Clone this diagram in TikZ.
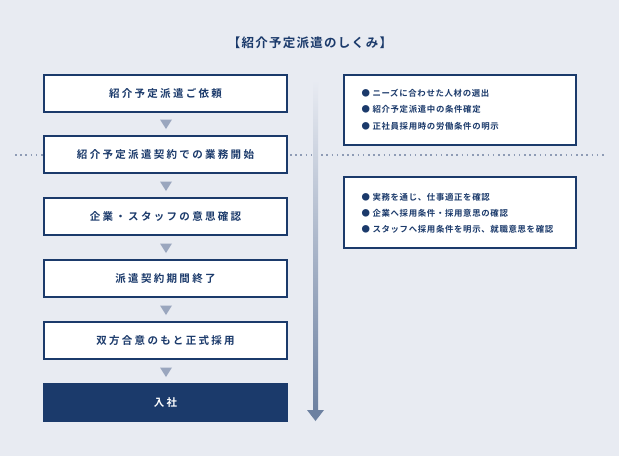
\documentclass[tikz,border=0pt]{standalone}
\usepackage{fontspec}
\setmainfont{Noto Sans CJK JP}[BoldFont={Noto Sans CJK JP Bold},LetterSpace=22]
\newfontfamily\jptitle{Noto Sans CJK JP Bold}[LetterSpace=10]
\newfontfamily\jpsmall{Noto Sans CJK JP Bold}[LetterSpace=8]
\definecolor{navy}{HTML}{1B3A6B}
\definecolor{bg}{HTML}{E8EBF2}
\definecolor{tri}{HTML}{9AA6BE}
\definecolor{dots}{HTML}{8E9BB5}
\begin{document}
\begin{tikzpicture}[x=1pt,y=-1pt,
  stepbox/.style={draw=navy,line width=2pt,fill=white,minimum width=243pt,minimum height=37pt,inner sep=0pt,font=\bfseries\fontsize{10.5}{12}\selectfont,text=navy},
  infobox/.style={draw=navy,line width=2pt,fill=white,minimum width=232pt,inner sep=0pt},
  tri/.style={fill=tri},
  infotxt/.style={anchor=west,font=\jpsmall\fontsize{8.4}{10}\selectfont,text=navy}]
\fill[bg] (0,0) rectangle (619,456);
\useasboundingbox (0,0) rectangle (619,456);
\node[font=\jptitle\fontsize{12.5}{14}\selectfont,text=navy] (title) at (310,43) {【紹介予定派遣のしくみ】};
% dotted line
\coordinate (d1) at (15,155); \coordinate (d2) at (44,155);
\coordinate (d3) at (290,155); \coordinate (d4) at (606,155);
\draw[dots,line width=1.6pt,dash pattern=on 1.6pt off 3.6pt] (d1) -- (d2);
\draw[dots,line width=1.6pt,dash pattern=on 1.6pt off 3.6pt] (d3) -- (d4);
% vertical gradient arrow
\shade[top color=bg,bottom color=navy!60!bg] (313,80) rectangle (318,410);
\fill[navy!60!bg] (307,410) -- (324,410) -- (315.5,421) -- cycle;
% steps
\node[stepbox] (s1) at (165.5,93) {紹介予定派遣ご依頼};
\node[stepbox] (s2) at (165.5,154.5) {紹介予定派遣契約での業務開始};
\node[stepbox] (s3) at (165.5,216.5) {企業・スタッフの意思確認};
\node[stepbox] (s4) at (165.5,278.5) {派遣契約期間終了};
\node[stepbox] (s5) at (165.5,340.5) {双方合意のもと正式採用};
\node[stepbox,fill=navy,text=white] (s6) at (165.5,402.5) {入社};
\foreach \y in {124,186,248,310,372}{
  \fill[tri] (160,\y-4.5) -- (172,\y-4.5) -- (166,\y+5) -- cycle;}
% info boxes
\node[infobox,minimum height=70pt] (b1) at (460,110) {};
\node[infobox,minimum height=71pt] (b2) at (460,212.5) {};
\node[infotxt] (t1) at (358,93) {●\ ニーズに合わせた人材の選出};
\node[infotxt] (t2) at (358,109) {●\ 紹介予定派遣中の条件確定};
\node[infotxt] (t3) at (358,126) {●\ 正社員採用時の労働条件の明示};
\node[infotxt] (t4) at (358,197) {●\ 実務を通じ、仕事適正を確認};
\node[infotxt] (t5) at (358,213) {●\ 企業へ採用条件・採用意思の確認};
\node[infotxt] (t6) at (358,229) {●\ スタッフへ採用条件を明示、就職意思を確認};
\end{tikzpicture}
\end{document}
